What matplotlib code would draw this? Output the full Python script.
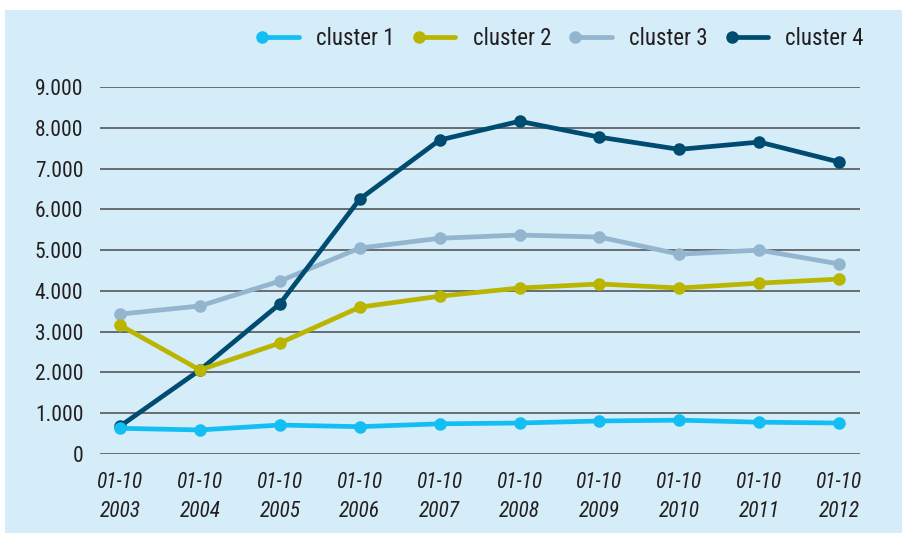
import matplotlib
matplotlib.use("Agg")
import matplotlib.pyplot as plt
from matplotlib import font_manager
from matplotlib.legend_handler import HandlerLine2D
from matplotlib.lines import Line2D
from matplotlib.patches import Rectangle

# data
years = ["2003", "2004", "2005", "2006", "2007", "2008", "2009", "2010", "2011", "2012"]
cluster_1 = [630, 590, 710, 670, 740, 760, 810, 830, 780, 760]
cluster_2 = [3160, 2060, 2720, 3600, 3870, 4070, 4170, 4070, 4190, 4290]
cluster_3 = [3430, 3630, 4240, 5050, 5290, 5370, 5320, 4900, 5000, 4660]
cluster_4 = [680, 2060, 3680, 6250, 7700, 8160, 7770, 7470, 7650, 7160]
y_ticks = [0, 1000, 2000, 3000, 4000, 5000, 6000, 7000, 8000, 9000]

series = [
    ("cluster 1", cluster_1, "#12bef2"),
    ("cluster 2", cluster_2, "#bab500"),
    ("cluster 3", cluster_3, "#93b5cd"),
    ("cluster 4", cluster_4, "#004b70"),
]
draw_order = [2, 3, 1, 0]  # grey-blue at the back, cyan on top

installed = {f.name for f in font_manager.fontManager.ttflist}
family = [f for f in ["Liberation Sans Narrow", "Roboto Condensed", "Liberation Sans", "DejaVu Sans"]
          if f in installed]
plt.rcParams["font.family"] = family
plt.rcParams["text.color"] = "#231f20"

BG = "#d5ecf9"


class LeftDotHandler(HandlerLine2D):
    """Legend handle: a line with a single dot on its left end."""
    def create_artists(self, legend, orig_handle, xdescent, ydescent, width, height, fontsize, trans):
        arts = super().create_artists(legend, orig_handle, xdescent, ydescent,
                                      width, height, fontsize, trans)
        for a in arts:
            if a.get_marker() not in (None, "None", ""):
                a.set_markevery([0])
        return arts


fig = plt.figure(figsize=(9.02, 5.37), dpi=100)
fig.patches.append(Rectangle((5 / 902, 4 / 537), 897 / 902, 523 / 537,
                             transform=fig.transFigure, facecolor=BG, edgecolor="none", zorder=-5))

ax = fig.add_axes([100 / 902, 1 - 454 / 537, 760 / 902, 367 / 537])
ax.set_facecolor("none")

x = list(range(len(years)))
handles = {}
for i in draw_order:
    name, vals, col = series[i]
    (h,) = ax.plot(x, vals, color=col, lw=3.4, marker="o", ms=8, mec=col, mfc=col,
                   solid_joinstyle="round", solid_capstyle="round", label=name,
                   zorder=3 + draw_order.index(i), clip_on=False)
    handles[i] = h

ax.set_xlim(-0.25, 9.26)
ax.set_ylim(0, 9000)
ax.set_yticks(y_ticks)
ax.set_yticklabels(["0"] + [f"{v // 1000}.000" for v in y_ticks[1:]], fontsize=15.5)
ax.set_xticks(x)
ax.set_xticklabels([f"01-10\n{y}" for y in years], fontsize=15.5, style="italic",
                   linespacing=1.5)
ax.tick_params(axis="both", length=0, colors="#231f20")
ax.tick_params(axis="y", pad=12)
ax.tick_params(axis="x", pad=13)
ax.grid(axis="y", color="#4a4a4a", lw=1.1, zorder=1)
ax.set_axisbelow(True)
for s in ax.spines.values():
    s.set_visible(False)

leg = fig.legend([handles[i] for i in range(4)], [s[0] for s in series],
                 loc="upper right", bbox_to_anchor=(864 / 902, 1 - 27 / 537),
                 borderaxespad=0, borderpad=0,
                 ncol=4, frameon=False, fontsize=16.5, numpoints=2,
                 handlelength=2.2, handletextpad=0.45, columnspacing=0.75,
                 handler_map={Line2D: LeftDotHandler()})

fig.savefig("out.png", dpi=100, facecolor="white")
